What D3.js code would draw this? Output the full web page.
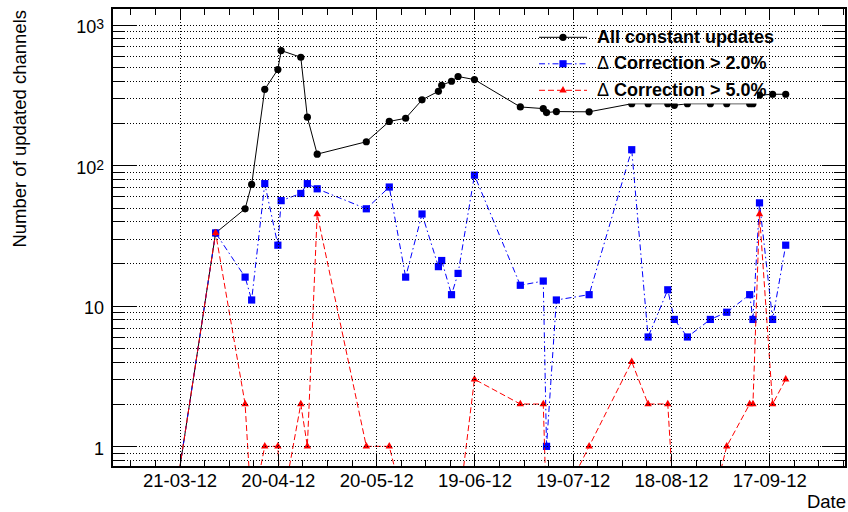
<!DOCTYPE html>
<html>
<head>
<meta charset="utf-8">
<script src="https://cdn.jsdelivr.net/npm/d3@7"></script>
<style>
  body { margin: 0; background: #fff; }
  svg { display: block; font-family: "Liberation Sans", Arial, Helvetica, sans-serif; }
</style>
</head>
<body>
<div id="chart"></div>
<script>
// dates of the calibration updates
const dates = ["2012-03-19","2012-04-01","2012-04-10","2012-04-12","2012-04-16","2012-04-20",
  "2012-04-21","2012-04-27","2012-04-29","2012-05-02","2012-05-17","2012-05-24","2012-05-29",
  "2012-06-03","2012-06-08","2012-06-09","2012-06-12","2012-06-14","2012-06-19","2012-07-03",
  "2012-07-10","2012-07-11","2012-07-14","2012-07-24","2012-08-06","2012-08-11","2012-08-17",
  "2012-08-19","2012-08-23","2012-08-30","2012-09-04","2012-09-11","2012-09-12","2012-09-14",
  "2012-09-18","2012-09-22"];
const allUpdates = [0,33,49,73,347,480,655,587,220,120,147,205,216,292,336,371,396,428,407,
  260,253,237,241,240,274,274,274,267,274,274,274,274,274,315,320,320];
const corr2 = [0,33,16,11,74,27,56,63,74,68,49,70,16,45,19,21,12,17,85,
  14,15,1,11,12,129,6,13,8,6,8,9,12,8,54,8,27];
const corr5 = [0,33,2,0,1,1,0,2,1,45,1,1,0,0,0,0,0,0,3,
  2,2,0,0,1,4,2,2,0,0,0,1,2,2,45,2,3];
const seriesNames = ["All constant updates", "\u0394 Correction > 2.0%", "\u0394 Correction > 5.0%"];

const xTickLabels = ["21-03-12","20-04-12","20-05-12","19-06-12","19-07-12","18-08-12","17-09-12"];
const yMajorTicks = [1, 10, 100, 1000];
const yMinorTicks = [0.8, 0.9, 2, 3, 4, 5, 6, 7, 8, 9, 20, 30, 40, 50, 60, 70, 80, 90,
  200, 300, 400, 500, 600, 700, 800, 900];
const yLabelBase = ["1", "10", "10", "10"];
const yLabelExp = ["", "", "2", "3"];

const margin = {top: 8, right: 2, bottom: 45, left: 112};
const width = 848 - margin.left - margin.right,
      height = 512 - margin.top - margin.bottom;

const parseDay = d3.utcParse("%Y-%m-%d");
const parseTick = d3.utcParse("%d-%m-%y");
const DAY = 864e5;

const svg = d3.select("#chart").append("svg")
  .attr("width", 848).attr("height", 512);
const g = svg.append("g").attr("transform", `translate(${margin.left},${margin.top})`);

const x = d3.scaleUtc()
  .domain([new Date(Date.UTC(2012, 1, 29, 9, 0)), new Date(Date.UTC(2012, 9, 10, 9, 36))])
  .range([0, width]);
const y = d3.scaleLog().domain([0.713, 1315]).range([height, 0]);

const majorDates = xTickLabels.map(parseTick);
const minorDates = d3.range(-2, 28).map(k => new Date(majorDates[0].getTime() + k * 7.5 * DAY));

// zero values go to the bottom of the pad, like ROOT does on a log axis
const yPos = v => v > 0 ? y(v) : height + margin.bottom;

function toPoints(vals) {
  return dates.map((d, i) => ({date: parseDay(d), v: vals[i]}));
}
const series = [
  {name: seriesNames[0], pts: toPoints(allUpdates), color: "#000", dash: null, marker: "circle"},
  {name: seriesNames[1], pts: toPoints(corr2), color: "#0000ff", dash: "6,3,1.5,3", marker: "square"},
  {name: seriesNames[2], pts: toPoints(corr5), color: "#ff0000", dash: "6,3", marker: "triangle"}
];

g.append("clipPath").attr("id", "clip")
  .append("rect").attr("width", width).attr("height", height);

const plot = g.append("g").attr("clip-path", "url(#clip)");
const line = d3.line().x(d => x(d.date)).y(d => yPos(d.v));

function drawMarker(sel, type, color) {
  if (type === "circle") {
    sel.append("circle").attr("r", 3.6).attr("fill", color);
  } else if (type === "square") {
    sel.append("rect").attr("x", -3.6).attr("y", -3.6).attr("width", 7.2).attr("height", 7.2).attr("fill", color);
  } else {
    sel.append("path").attr("d", d3.symbol(d3.symbolTriangle, 24)()).attr("fill", color);
  }
}

series.forEach(s => {
  plot.append("path")
    .datum(s.pts)
    .attr("fill", "none")
    .attr("stroke", s.color)
    .attr("stroke-width", 1)
    .attr("stroke-dasharray", s.dash)
    .attr("d", line);
  const m = plot.selectAll(null)
    .data(s.pts.filter(d => d.v > 0))
    .enter().append("g")
    .attr("transform", d => `translate(${x(d.date)},${y(d.v)})`);
  drawMarker(m, s.marker, s.color);
});

// legend (white box, grid is redrawn on top of it)
const legend = svg.append("g");
legend.append("rect")
  .attr("x", 530).attr("y", 18).attr("width", 227).attr("height", 85.5)
  .attr("fill", "#fff");
series.forEach((s, i) => {
  const cy = 37.3 + i * 26.5;
  const row = legend.append("g");
  row.append("line")
    .attr("x1", 539).attr("x2", 587).attr("y1", cy).attr("y2", cy)
    .attr("stroke", s.color).attr("stroke-width", 1)
    .attr("stroke-dasharray", s.dash);
  drawMarker(row.append("g").attr("transform", `translate(563,${cy})`), s.marker, s.color);
  const t = row.append("text")
    .attr("x", 597).attr("y", cy + 5.5)
    .style("font-size", "18px").style("font-weight", "bold");
  if (s.name.startsWith("\u0394")) {
    t.append("tspan").style("font-weight", "normal").text("\u0394");
    t.append("tspan").text(s.name.slice(1));
  } else {
    t.text(s.name);
  }
});

// grid, drawn over everything
const grid = svg.append("g").attr("transform", `translate(${margin.left},${margin.top})`);
grid.append("g")
  .call(d3.axisLeft(y).tickValues(yMajorTicks.concat(yMinorTicks)).tickSize(-width).tickFormat(""));
grid.append("g")
  .attr("transform", `translate(0,${height})`)
  .call(d3.axisBottom(x).tickValues(majorDates).tickSize(-height).tickFormat(""));
grid.selectAll(".domain").remove();
grid.selectAll("line")
  .attr("stroke", "#000").attr("stroke-dasharray", "1,2")
  .attr("shape-rendering", "crispEdges");

// axes
const axes = svg.append("g").attr("transform", `translate(${margin.left},${margin.top})`);
const xAxis = axes.append("g")
  .attr("transform", `translate(0,${height})`)
  .call(d3.axisBottom(x).tickValues(majorDates).tickSizeInner(-12).tickSizeOuter(0)
    .tickFormat((d, i) => xTickLabels[i]));
xAxis.selectAll("text").attr("y", 20).attr("dy", null)
  .style("font-size", "18.5px").attr("fill", "#000");
axes.append("g")
  .attr("transform", `translate(0,${height})`)
  .call(d3.axisBottom(x).tickValues(minorDates).tickSizeInner(-7).tickSizeOuter(0).tickFormat(""));
axes.append("g")
  .call(d3.axisTop(x).tickValues(majorDates).tickSizeInner(-12).tickSizeOuter(0).tickFormat(""));
axes.append("g")
  .call(d3.axisTop(x).tickValues(minorDates).tickSizeInner(-7).tickSizeOuter(0).tickFormat(""));

const yAxis = axes.append("g")
  .call(d3.axisLeft(y).tickValues(yMajorTicks).tickSizeInner(-24).tickSizeOuter(0).tickPadding(8)
    .tickFormat(""));
yAxis.selectAll("text")
  .attr("dy", "0.45em").style("font-size", "18px").attr("fill", "#000")
  .each(function(d, i) {
    const t = d3.select(this);
    t.append("tspan").text(yLabelBase[i]);
    if (yLabelExp[i]) {
      t.append("tspan").attr("dy", "-0.3em").style("font-size", "14px").text(yLabelExp[i]);
    }
  });
axes.append("g")
  .call(d3.axisLeft(y).tickValues(yMinorTicks).tickSizeInner(-12).tickSizeOuter(0).tickFormat(""));
axes.append("g")
  .attr("transform", `translate(${width},0)`)
  .call(d3.axisRight(y).tickValues(yMajorTicks).tickSizeInner(-24).tickSizeOuter(0).tickFormat(""));
axes.append("g")
  .attr("transform", `translate(${width},0)`)
  .call(d3.axisRight(y).tickValues(yMinorTicks).tickSizeInner(-12).tickSizeOuter(0).tickFormat(""));
axes.selectAll(".domain").remove();
axes.selectAll(".tick line").attr("stroke", "#000").attr("shape-rendering", "crispEdges");

axes.append("rect")
  .attr("width", width).attr("height", height)
  .attr("fill", "none").attr("stroke", "#000").attr("stroke-width", 2);

// axis titles
svg.append("text")
  .attr("x", 846).attr("y", 508)
  .attr("text-anchor", "end")
  .style("font-size", "18.5px")
  .text("Date");
svg.append("text")
  .attr("transform", "translate(25.5,10) rotate(-90)")
  .attr("text-anchor", "end")
  .style("font-size", "18.5px")
  .text("Number of updated channels");
</script>
</body>
</html>
